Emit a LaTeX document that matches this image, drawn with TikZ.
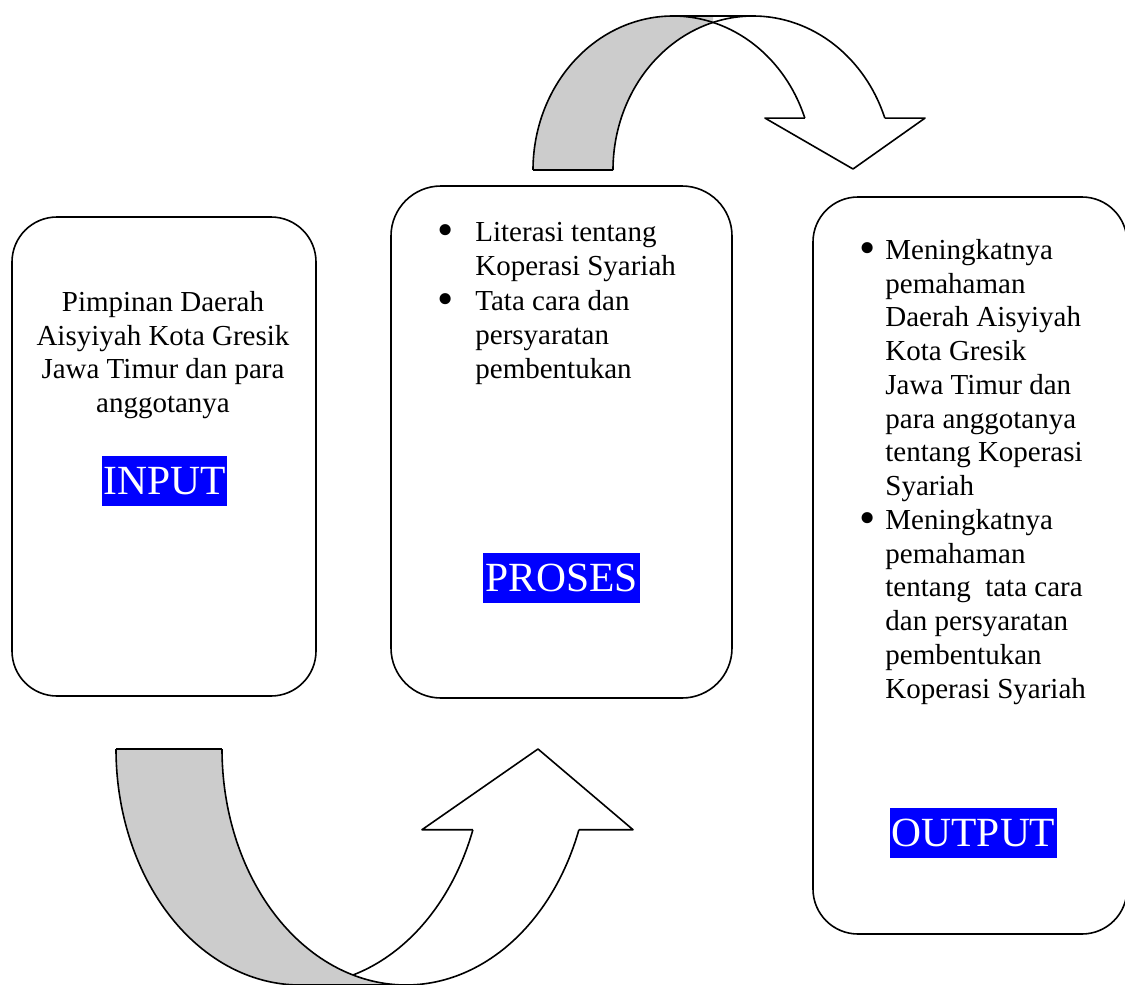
\documentclass[tikz,border=0pt]{standalone}
\usepackage{fontspec}
\setmainfont{Liberation Serif}
\definecolor{shadegray}{RGB}{204,204,204}
\definecolor{hlblue}{RGB}{0,0,255}
\newcommand\bul{\raisebox{-2.2pt}{\scalebox{1.6}{\textbullet}}}
\begin{document}
\begin{tikzpicture}[x=0.5pt,y=-0.5pt,line join=round]
\tikzset{
  roundbox/.style={draw,line width=0.8pt,rounded corners=#1,inner sep=0pt},
  body/.style={font=\fontsize{14.5pt}{16.875pt}\selectfont,inner sep=0pt},
  lab/.style={fill=hlblue,text=white,inner sep=0pt,minimum height=25pt,
    font=\fontsize{20.75pt}{24pt}\selectfont},
  arrowline/.style={line width=0.8pt}
}
\fill[white] (0,0) rectangle (1125,985);
\useasboundingbox (0,0) rectangle (1125,985);

% boxes
\node[roundbox=22.5pt,minimum width=152pt,minimum height=239.5pt] (inputbox) at (164,456.5) {};
\node[roundbox=25pt,minimum width=170.5pt,minimum height=256pt] (prosesbox) at (561.5,442) {};
\node[roundbox=22.5pt,minimum width=157pt,minimum height=368.5pt] (outputbox) at (970,565.5) {};

% texts
\node[body,anchor=north,align=center] (inputtext) at (163,287.4)
 {\strut Pimpinan Daerah\\ \strut Aisyiyah Kota Gresik\\ \strut Jawa Timur dan para\\ \strut anggotanya};
\node[body,anchor=north west,align=left] (prosestext) at (430,217.4)
 {\strut\makebox[15pt][c]{\bul}\hspace{7.5pt}Literasi tentang\\
  \strut\hspace*{22.5pt}Koperasi Syariah\\[0.8pt]
  \strut\makebox[15pt][c]{\bul}\hspace{7.5pt}Tata cara dan\\
  \strut\hspace*{22.5pt}persyaratan\\
  \strut\hspace*{22.5pt}pembentukan};
\node[body,anchor=north west,align=left] (outputtext) at (857,235.4)
 {\strut\makebox[10pt][c]{\bul}\hspace{4pt}Meningkatnya\\
  \strut\hspace*{14pt}pemahaman\\
  \strut\hspace*{14pt}Daerah Aisyiyah\\
  \strut\hspace*{14pt}Kota Gresik\\
  \strut\hspace*{14pt}Jawa Timur dan\\
  \strut\hspace*{14pt}para anggotanya\\
  \strut\hspace*{14pt}tentang Koperasi\\
  \strut\hspace*{14pt}Syariah\\
  \strut\makebox[10pt][c]{\bul}\hspace{4pt}Meningkatnya\\
  \strut\hspace*{14pt}pemahaman\\
  \strut\hspace*{14pt}tentang\ \ tata cara\\
  \strut\hspace*{14pt}dan persyaratan\\
  \strut\hspace*{14pt}pembentukan\\
  \strut\hspace*{14pt}Koperasi Syariah};

\node[lab,minimum width=62.5pt] (inputlab) at (164.5,481) {INPUT};
\node[lab,minimum width=78.5pt] (proseslab) at (561.5,578) {PROSES};
\node[lab,minimum width=83.5pt] (outputlab) at (973.5,833) {OUTPUT};

% top curved arrow (down)
\fill[shadegray] (533,170) -- plot[domain=180:270,samples=50] ({673+140*cos(\x)},{170+154*sin(\x)})
  -- (713,16) -- (713,22.4) -- plot[domain=253.4:180,samples=50] ({753+140*cos(\x)},{170+154*sin(\x)}) -- cycle;
\draw[arrowline] plot[domain=180:340.3,samples=120] ({673+140*cos(\x)},{170+154*sin(\x)});
\draw[arrowline] plot[domain=180:340.3,samples=120] ({753+140*cos(\x)},{170+154*sin(\x)});
\draw[arrowline] (673,16) -- (753,16);
\draw[arrowline] (533,170) -- (613,170);
\draw[arrowline] (804.8,118.1) -- (765,118.1) -- (853,169) -- (925,118.1) -- (884.8,118.1);

% bottom curved arrow (up)
\fill[shadegray] (116,749) -- plot[domain=180:90,samples=50] ({300+184*cos(\x)},{749+236*sin(\x)})
  -- (406,985) -- plot[domain=90:180,samples=50] ({406+184*cos(\x)},{749+236*sin(\x)}) -- cycle;
\draw[arrowline] plot[domain=180:90,samples=80] ({300+184*cos(\x)},{749+236*sin(\x)});
\draw[arrowline] plot[domain=73.3:20,samples=60] ({300+184*cos(\x)},{749+236*sin(\x)});
\draw[arrowline] plot[domain=180:20,samples=140] ({406+184*cos(\x)},{749+236*sin(\x)});
\draw[arrowline] (300,985) -- (406,985);
\draw[arrowline] (116,749) -- (222,749);
\draw[arrowline] (472.9,829.7) -- (422,829.7) -- (538,749) -- (633,829.7) -- (578.9,829.7);
\end{tikzpicture}
\end{document}
